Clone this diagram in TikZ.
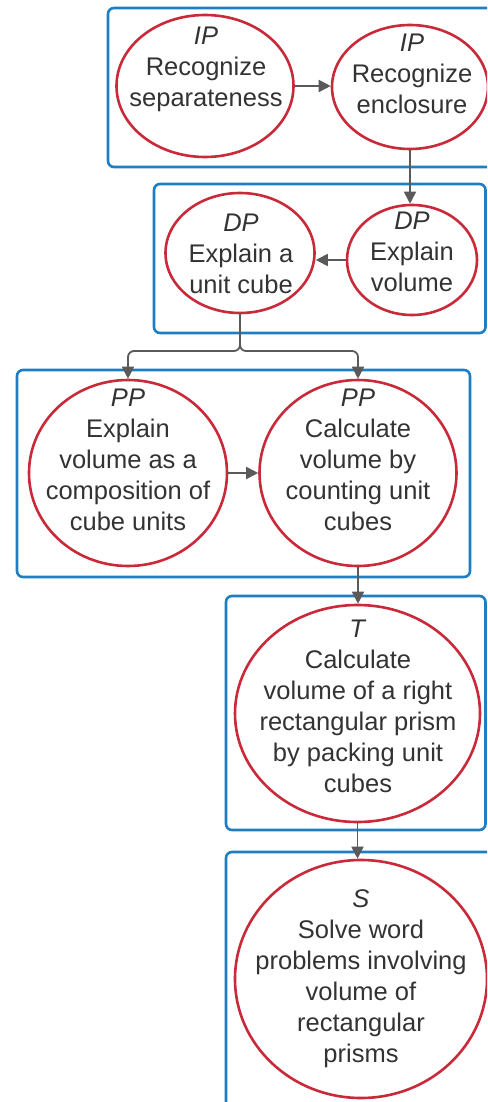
\documentclass[tikz,border=0pt]{standalone}
\usepackage{fontspec}
\setmainfont{Liberation Sans}
\usetikzlibrary{shapes.geometric,arrows.meta}
\definecolor{stageblue}{HTML}{1F7DC1}
\definecolor{goalred}{HTML}{C92A3A}
\definecolor{inktext}{HTML}{333333}
\definecolor{linkgray}{HTML}{5A5A5A}
\tikzset{
  stagebox/.style={draw=stageblue,line width=2.6pt,rounded corners=6pt,fill=white},
  goal/.style={ellipse,draw=goalred,line width=2.6pt,fill=white,inner sep=0pt},
  goaltext/.style={text=inktext,inner sep=0pt,font=\fontsize{25.5}{31}\selectfont},
  link/.style={draw=linkgray,line width=1.8pt,-{Triangle[length=12pt,width=12pt]}},
}
\newcommand{\goallines}[1]{\renewcommand\arraystretch{1}\setlength\tabcolsep{0pt}\begin{tabular}{c}#1\end{tabular}}
\begin{document}
\begin{tikzpicture}[x=1pt,y=-1pt]
\path[use as bounding box,clip] (0,0) rectangle (487,1102);
\fill[white] (0,0) rectangle (487,1102);

% stage frames
\draw[stagebox] (108,8) rectangle (510,167);
\draw[stagebox] (154,184) rectangle (485.5,333);
\draw[stagebox] (17,370) rectangle (470,577);
\draw[stagebox] (226,596) rectangle (485.5,830);
\draw[stagebox] (226,852) rectangle (510,1130);

% goals
\node[goal,minimum width=177pt,minimum height=142pt] (e1) at (205,86) {};
\node[goal,minimum width=156pt,minimum height=124pt] (e2) at (410,87) {};
\node[goal,minimum width=130pt,minimum height=110pt] (e3) at (412,260) {};
\node[goal,minimum width=149pt,minimum height=120pt] (e4) at (240,253) {};
\node[goal,minimum width=198pt,minimum height=186pt] (e5) at (128,473) {};
\node[goal,minimum width=197pt,minimum height=186pt] (e6) at (358,473) {};
\node[goal,minimum width=245pt,minimum height=217pt] (e7) at (357.5,713.5) {};
\node[goal,minimum width=252pt,minimum height=238pt] (e8) at (361,979) {};

% goal texts
\node[goaltext] (t1) at (206,69) {\goallines{\textit{IP}\\Recognize\\separateness}};
\node[goaltext] (t2) at (412,76) {\goallines{\textit{IP}\\Recognize\\enclosure}};
\node[goaltext] (t3) at (412,254) {\goallines{\textit{DP}\\Explain\\volume}};
\node[goaltext] (t4) at (241,256) {\goallines{\textit{DP}\\Explain a\\unit cube}};
\node[goaltext] (t5) at (128,462) {\goallines{\textit{PP}\\Explain\\volume as a\\composition of\\cube units}};
\node[goaltext] (t6) at (358,462) {\goallines{\textit{PP}\\Calculate\\volume by\\counting unit\\cubes}};
\node[goaltext] (t7) at (358,709) {\goallines{\textit{T}\\Calculate\\volume of a right\\rectangular prism\\by packing unit\\cubes}};
\node[goaltext] (t8) at (361,979) {\goallines{\textit{S}\\Solve word\\problems involving\\volume of\\rectangular\\prisms}};

% links
\coordinate (fork) at (e4.south |- 0,351);
\draw[link] (e1.east) -- (e2.west |- e1.east);
\draw[link] (e2.south) -- (e2.south |- e3.north);
\draw[link] (e3.west) -- (e4.east |- e3.west);
\draw[link,rounded corners=6pt] (e4.south) -- (fork) -| (e5.north);
\draw[link,rounded corners=6pt] (e4.south) -- (fork) -| (e6.north);
\draw[link] (e5.east) -- (e6.west);
\draw[link] (e6.south) -- (e6.south |- e7.north);
\draw[link] (e7.south) -- (e7.south |- e8.north);
\end{tikzpicture}
\end{document}
